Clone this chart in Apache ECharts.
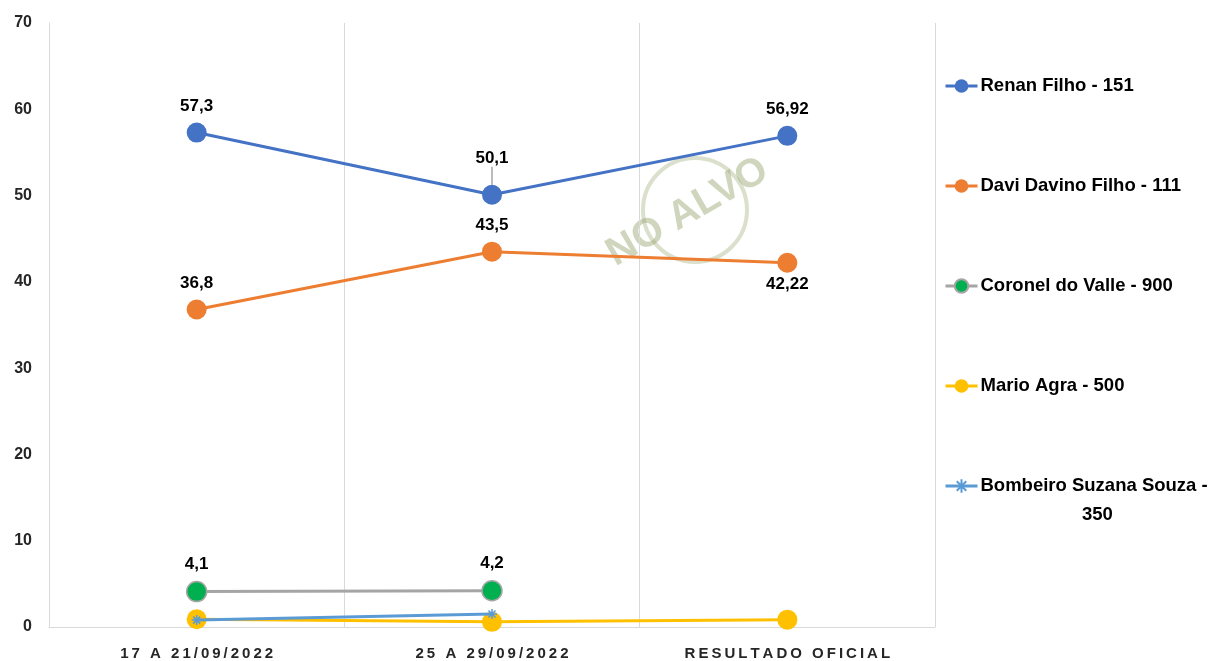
<!DOCTYPE html>
<html><head><meta charset="utf-8">
<script src="https://cdn.jsdelivr.net/npm/echarts@6/dist/echarts.min.js"></script>
<style>html,body{margin:0;padding:0;background:#fff}#c{width:1215px;height:661px}</style>
</head><body><div id="c"></div>
<script>
const categories = ['17 A 21/09/2022', '25 A 29/09/2022', 'RESULTADO OFICIAL'];
const yTicks = [0, 10, 20, 30, 40, 50, 60, 70];
const renan = [57.3, 50.1, 56.92];
const davi = [36.8, 43.5, 42.22];
const coronel = [4.1, 4.2, null];
const mario = [0.9, 0.6, 0.85];
const bombeiro = [0.8, 1.5, null];
const names = ['Renan Filho - 151', 'Davi Davino Filho - 111', 'Coronel do Valle - 900', 'Mario Agra - 500', 'Bombeiro Suzana Souza - 350'];

const FONT = 'Liberation Sans';
const fmt = p => (p.value == null ? '' : String(p.value).replace('.', ','));
const lblTop = { show: true, position: 'top', distance: 8, formatter: fmt, color: '#000', fontWeight: 'bold', fontSize: 17, fontFamily: FONT };
const asterisk = 'path://M5,0 L5,10 M0,5 L10,5 M1.5,1.5 L8.5,8.5 M8.5,1.5 L1.5,8.5';

const chart = echarts.init(document.getElementById('c'));
chart.setOption({
  animation: false,
  grid: { left: 49, right: 280, top: 23, bottom: 34 },
  xAxis: {
    type: 'category', data: categories, boundaryGap: true,
    axisLine: { show: true, lineStyle: { color: '#d9d9d9', width: 1 } },
    axisTick: { show: false },
    splitLine: { show: true, lineStyle: { color: '#d9d9d9', width: 1 } },
    axisLabel: { color: '#262626', fontWeight: 'bold', fontSize: 15, fontFamily: FONT, margin: 19,
      formatter: v => v.split('').join('\u2009') }
  },
  yAxis: {
    type: 'value', min: yTicks[0], max: yTicks[yTicks.length - 1], interval: 10,
    axisLine: { show: true, lineStyle: { color: '#d9d9d9', width: 1 } },
    axisTick: { show: false },
    splitLine: { show: false },
    axisLabel: { color: '#262626', fontWeight: 'bold', fontSize: 16, fontFamily: FONT, margin: 17 }
  },
  legend: {
    orient: 'vertical', left: 939, top: 71,
    itemWidth: 32, itemHeight: 17, itemGap: 80,
    lineStyle: { width: 3 },
    textStyle: { color: '#000', fontWeight: 'bold', fontSize: 18.5, fontFamily: FONT, padding: [0, 0, 0, -2], lineHeight: 20 },
    formatter: n => n === names[4] ? 'Bombeiro Suzana Souza -' : n,
    data: names
  },
  graphic: [
    { type: 'text', left: 1082, top: 505,
      style: { text: '350', fill: '#000', font: 'bold 18.5px "Liberation Sans"' } },
    { type: 'text', left: 600, top: 150, rotation: Math.PI / 6, z: 0,
      style: { text: 'NO ALVO', fill: 'rgba(150,165,110,0.45)', font: 'bold 40px "Liberation Sans"' } },
    { type: 'circle', shape: { cx: 695, cy: 210, r: 52 }, z: 0,
      style: { fill: 'none', stroke: 'rgba(150,165,110,0.35)', lineWidth: 4 } }
  ],
  series: [
    { name: names[0], type: 'line', data: [
        renan[0],
        { value: renan[1], labelLine: { show: true, lineStyle: { color: '#a5a5a5', width: 1.5 } } },
        renan[2]
      ], symbol: 'circle', symbolSize: 20,
      lineStyle: { color: '#4472C4', width: 3 }, itemStyle: { color: '#4472C4' },
      label: lblTop,
      labelLayout: p => p.dataIndex === 1 ? { dy: -10 } : {},
      z: 5 },
    { name: names[1], type: 'line', data: [
        davi[0], davi[1],
        { value: davi[2], label: { position: 'bottom', distance: 3 } }
      ], symbol: 'circle', symbolSize: 20,
      lineStyle: { color: '#ED7D31', width: 3 }, itemStyle: { color: '#ED7D31' },
      label: lblTop, z: 5 },
    { name: names[2], type: 'line', data: coronel, symbol: 'circle', symbolSize: 20,
      lineStyle: { color: '#A5A5A5', width: 3 }, itemStyle: { color: '#00B050', borderColor: '#A5A5A5', borderWidth: 1.5 },
      label: lblTop, z: 5 },
    { name: names[3], type: 'line', data: mario, symbol: 'circle', symbolSize: 20,
      lineStyle: { color: '#FFC000', width: 3 }, itemStyle: { color: '#FFC000' }, z: 5 },
    { name: names[4], type: 'line', data: bombeiro, symbol: asterisk, symbolSize: 10,
      lineStyle: { color: '#5B9BD5', width: 3 }, itemStyle: { color: '#5B9BD5', borderColor: '#5B9BD5', borderWidth: 1.5 }, z: 6 }
  ]
});
</script></body></html>
